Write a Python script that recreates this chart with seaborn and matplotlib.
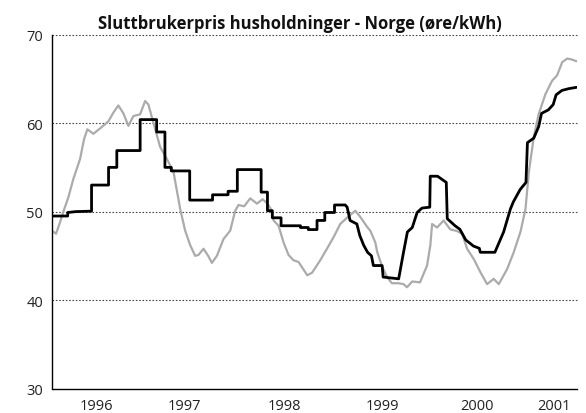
import matplotlib.pyplot as plt
import seaborn as sns

# -----------------------------------
# Data (decimal years, øre/kWh)
# -----------------------------------
# black line: sluttbrukerpris (steps)
pris_aar = [1996.080, 1996.245, 1996.245, 1996.33, 1996.49, 1996.49, 1996.665, 1996.665,
            1996.75, 1996.75, 1996.99, 1996.99, 1997.16, 1997.16, 1997.245, 1997.245,
            1997.31, 1997.31, 1997.50, 1997.50, 1997.735, 1997.735, 1997.895, 1997.895,
            1997.99, 1997.99, 1998.235, 1998.235, 1998.30, 1998.30, 1998.35, 1998.35,
            1998.44, 1998.44, 1998.64, 1998.64, 1998.72, 1998.72, 1998.81, 1998.81,
            1998.89, 1998.89, 1998.99, 1998.99, 1999.10, 1999.12, 1999.15, 1999.22,
            1999.25, 1999.29, 1999.33, 1999.37, 1999.39, 1999.48, 1999.49, 1999.65,
            1999.70, 1999.74, 1999.79, 1999.84, 1999.89, 1999.97, 1999.975, 2000.05,
            2000.14, 2000.15, 2000.23, 2000.28, 2000.34, 2000.42, 2000.48, 2000.49,
            2000.64, 2000.73, 2000.80, 2000.83, 2000.90, 2000.96, 2000.975, 2001.04,
            2001.09, 2001.12, 2001.19, 2001.24, 2001.27, 2001.33, 2001.40, 2001.48]
pris_ore = [49.5, 49.5, 49.9, 50.0, 50.05, 53.0, 53.0, 55.0,
            55.0, 56.9, 56.9, 60.4, 60.4, 59.0, 59.0, 55.0,
            55.0, 54.6, 54.6, 51.3, 51.3, 51.9, 51.9, 52.3,
            52.3, 54.75, 54.75, 52.2, 52.2, 50.1, 50.1, 49.3,
            49.3, 48.4, 48.4, 48.2, 48.2, 47.97, 47.97, 49.0,
            49.0, 49.9, 49.9, 50.75, 50.75, 50.5, 49.0, 48.6,
            47.3, 46.2, 45.4, 45.0, 43.9, 43.9, 42.6, 42.4,
            45.4, 47.7, 48.2, 49.9, 50.4, 50.5, 54.0, 54.0,
            53.3, 49.2, 48.4, 48.0, 46.8, 46.1, 45.85, 45.4,
            45.4, 47.7, 50.3, 51.1, 52.5, 53.3, 57.8, 58.3,
            59.6, 61.1, 61.5, 62.1, 63.2, 63.7, 63.9, 64.05]

# grey line
graa_aar = [1996.080, 1996.125, 1996.166, 1996.200, 1996.251, 1996.303, 1996.372, 1996.413,
            1996.447, 1996.509, 1996.578, 1996.663, 1996.715, 1996.766, 1996.818, 1996.869,
            1996.921, 1996.990, 1997.041, 1997.075, 1997.144, 1997.196, 1997.265, 1997.333,
            1997.402, 1997.453, 1997.505, 1997.556, 1997.59, 1997.642, 1997.69, 1997.728,
            1997.780, 1997.848, 1997.917, 1997.968, 1998.002, 1998.06, 1998.123, 1998.192,
            1998.25, 1998.30, 1998.346, 1998.363, 1998.414, 1998.466, 1998.517, 1998.568,
            1998.620, 1998.68, 1998.71, 1998.76, 1998.843, 1998.912, 1998.980, 1999.049,
            1999.118, 1999.204, 1999.255, 1999.324, 1999.36, 1999.41, 1999.43, 1999.48,
            1999.53, 1999.58, 1999.65, 1999.70, 1999.736, 1999.79, 1999.87, 1999.942,
            1999.976, 1999.994, 2000.045, 2000.113, 2000.18, 2000.25, 2000.303, 2000.354,
            2000.422, 2000.491, 2000.56, 2000.628, 2000.68, 2000.766, 2000.834, 2000.903,
            2000.955, 2000.99, 2001.04, 2001.09, 2001.161, 2001.229, 2001.28, 2001.333,
            2001.384, 2001.43, 2001.48]
graa_ore = [47.85, 47.5, 48.8, 50.0, 51.6, 53.7, 55.95, 58.2,
            59.3, 58.8, 59.4, 60.2, 61.2, 62.0, 61.1, 59.7,
            60.8, 61.0, 62.5, 62.1, 59.35, 57.3, 55.95, 54.5,
            50.3, 47.85, 46.2, 45.0, 45.1, 45.8, 45.0, 44.2,
            45.0, 46.9, 47.85, 50.1, 50.75, 50.6, 51.5, 50.9,
            51.4, 50.9, 50.1, 49.0, 48.4, 46.5, 45.1, 44.5,
            44.3, 43.3, 42.8, 43.1, 44.5, 45.8, 47.1, 48.6,
            49.3, 50.1, 49.4, 48.3, 47.8, 46.5, 45.4, 43.8,
            42.6, 41.9, 41.9, 41.8, 41.45, 42.1, 42.0, 43.9,
            46.2, 48.6, 48.2, 49.0, 48.0, 47.8, 47.5, 45.8,
            44.65, 43.15, 41.8, 42.4, 41.8, 43.5, 45.4, 47.7,
            50.3, 54.5, 58.4, 61.0, 63.3, 64.8, 65.4, 66.9,
            67.3, 67.2, 67.0]

year_ticks = [1997, 1998, 1999, 2000, 2001]
year_label_pos = [1996.54, 1997.45, 1998.47, 1999.48, 2000.46, 2001.25]
year_labels = ["1996", "1997", "1998", "1999", "2000", "2001"]
y_ticks = [30, 40, 50, 60, 70]

title = "Sluttbrukerpris husholdninger - Norge (øre/kWh)"

# -----------------------------------
# Plot
# -----------------------------------
sns.set_style("white")
plt.rcParams['font.family'] = ['Open Sans', 'DejaVu Sans']

fig = plt.figure(figsize=(5.86, 4.14), dpi=100)
ax = fig.add_axes([51.7 / 586, 1 - 389.5 / 414, (577 - 51.7) / 586, (389.5 - 35.7) / 414])

for y in y_ticks[1:]:
    ax.axhline(y, color='#444444', lw=0.8, ls=(0, (1.4, 1.6)), clip_on=False, zorder=1)

sns.lineplot(x=graa_aar, y=graa_ore, estimator=None, sort=False,
             color='#ababab', lw=1.6, ax=ax, zorder=2)
sns.lineplot(x=pris_aar, y=pris_ore, estimator=None, sort=False,
             color='black', lw=2.0, ax=ax, zorder=3)

ax.set_xlim(1996.08, 2001.485)
ax.set_ylim(30, 70)

ax.set_xticks(year_ticks)
ax.set_xticklabels([])
ax.set_xticks(year_label_pos, minor=True)
ax.set_xticklabels(year_labels, minor=True)
ax.tick_params(axis='x', which='major', direction='in', length=5.4, width=0.8, color='black')
ax.tick_params(axis='x', which='minor', length=0, pad=7, labelsize=10.5, labelcolor='#222222')

ax.set_yticks(y_ticks)
ax.tick_params(axis='y', length=0, pad=6, labelsize=10.5, labelcolor='#222222')

sns.despine(ax=ax, top=True, right=True)
for s in ['left', 'bottom']:
    ax.spines[s].set_color('black')
    ax.spines[s].set_linewidth(1.0)

fig.text(300 / 586, 1 - 24 / 414, title, ha='center', va='center',
         fontsize=12, fontweight='bold', color='#111111')

fig.savefig('out.png', dpi=100)
